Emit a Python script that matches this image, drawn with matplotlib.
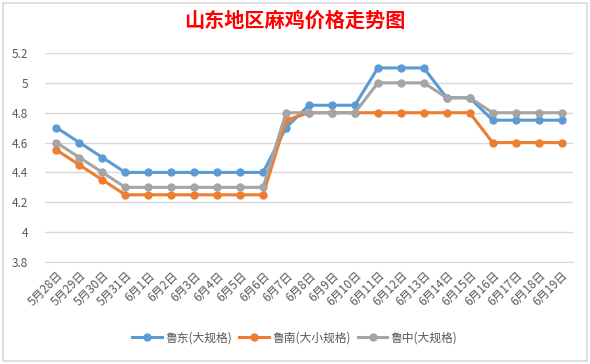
import matplotlib
matplotlib.use("Agg")
import matplotlib.pyplot as plt
from matplotlib.patches import Rectangle

plt.rcParams['font.family'] = ['Noto Sans CJK SC', 'DejaVu Sans']

dates = ["5月28日", "5月29日", "5月30日", "5月31日"] + ["6月%d日" % d for d in range(1, 20)]
ludong = [4.7, 4.6, 4.5, 4.4, 4.4, 4.4, 4.4, 4.4, 4.4, 4.4,
          4.7, 4.85, 4.85, 4.85, 5.1, 5.1, 5.1, 4.9, 4.9, 4.75, 4.75, 4.75, 4.75]
lunan = [4.55, 4.45, 4.35, 4.25, 4.25, 4.25, 4.25, 4.25, 4.25, 4.25,
         4.75, 4.8, 4.8, 4.8, 4.8, 4.8, 4.8, 4.8, 4.8, 4.6, 4.6, 4.6, 4.6]
luzhong = [4.6, 4.5, 4.4, 4.3, 4.3, 4.3, 4.3, 4.3, 4.3, 4.3,
           4.8, 4.8, 4.8, 4.8, 5.0, 5.0, 5.0, 4.9, 4.9, 4.8, 4.8, 4.8, 4.8]
names = ["鲁东(大规格)", "鲁南(大小规格)", "鲁中(大规格)"]
colors = ["#5B9BD5", "#ED7D31", "#A5A5A5"]
yticks = [3.8, 4, 4.2, 4.4, 4.6, 4.8, 5, 5.2]

fig = plt.figure(figsize=(5.9, 3.64), dpi=100)
fig.patches.append(Rectangle((3 / 590, 3 / 364), 584 / 590, 358 / 364, transform=fig.transFigure,
                             fill=False, edgecolor="#D9D9D9", linewidth=1.2))
ax = fig.add_axes([45 / 590, 1 - 262 / 364, 528 / 590, 209 / 364])

x = list(range(len(dates)))
for vals, name, c in zip([ludong, lunan, luzhong], names, colors):
    ax.plot(x, vals, color=c, linewidth=2.2, marker="o", markersize=5, label=name)

ax.set_xlim(-0.5, len(dates) - 0.5)
ax.set_ylim(3.8, 5.2)
ax.set_yticks(yticks)
ax.set_yticklabels([("%g" % v) for v in yticks], color="#595959", fontsize=8.5)
ax.set_xticks(x)
ax.set_xticklabels(dates, rotation=45, ha="right", va="top", rotation_mode="anchor",
                   color="#595959", fontsize=8.5)
ax.tick_params(axis="both", length=0, pad=5)
ax.tick_params(axis="y", pad=12)
ax.grid(axis="y", color="#D9D9D9", linewidth=1)
ax.set_axisbelow(True)
for s in ["top", "right", "left"]:
    ax.spines[s].set_visible(False)
ax.spines["bottom"].set_color("#D9D9D9")

fig.text(0.5, 1 - 20 / 364, "山东地区麻鸡价格走势图", color="red", fontsize=14.5,
         fontweight="bold", ha="center", va="center")
fig.legend(loc="center", bbox_to_anchor=(0.5, 1 - 338 / 364), ncol=3, frameon=False,
           fontsize=8.5, labelcolor="#595959", handlelength=2.5, columnspacing=0.6,
           handletextpad=0.3)

fig.savefig("out.png", dpi=100)
